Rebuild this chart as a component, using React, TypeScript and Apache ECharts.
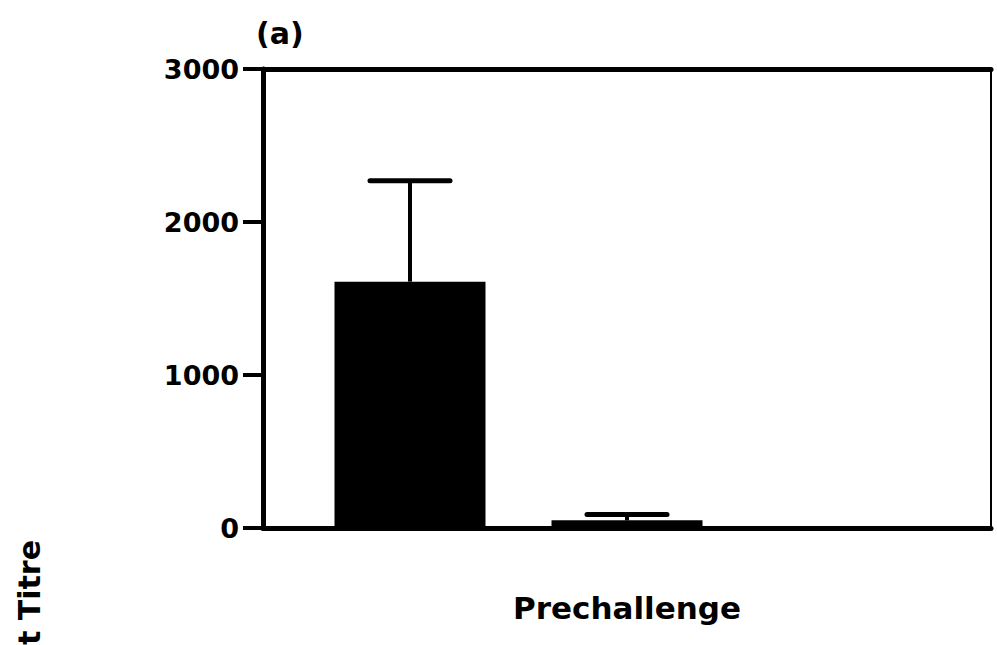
import React, { useEffect, useRef } from "react";
import * as echarts from "echarts";

const categories = ["Prechallenge"];
const groupNames = ["Group 1", "Group 2", "Group 3"];
const means = [1610, 50, 0];
const errorTops = [2270, 88, 0];
const yTicks = [0, 1000, 2000, 3000];
const panelLabel = "(a)";
const yAxisTitle = "Endpoint Titre";

const BAR_W = 151;
const GAP_PX = 66;
const FONT = "DejaVu Sans";

export default function App() {
  const ref = useRef<HTMLDivElement>(null);
  useEffect(() => {
    if (!ref.current) return;
    const chart = echarts.init(ref.current, undefined, { renderer: "svg" });
    const barSeries = groupNames.map((name, i) => ({
      type: "bar",
      name,
      data: [means[i]],
      barWidth: BAR_W,
      barGap: (GAP_PX / BAR_W) * 100 + "%",
      z: 2,
      itemStyle:
        i === 1
          ? { color: "#fff", borderColor: "#000", borderWidth: 4 }
          : { color: "#000" },
    }));
    chart.setOption({
      animation: false,
      backgroundColor: "#fff",
      grid: {
        left: 263,
        right: 6,
        top: 69,
        bottom: 117,
        outerBoundsMode: "none",
        containLabel: false,
      },
      graphic: [
        {
          type: "text",
          left: 256,
          top: 18,
          style: {
            text: panelLabel,
            font: `bold 30px "${FONT}"`,
            fill: "#000",
          },
        },
        {
          type: "text",
          x: 29,
          y: 540,
          rotation: Math.PI / 2,
          style: {
            text: yAxisTitle,
            font: `bold 30px "${FONT}"`,
            fill: "#000",
            align: "right",
            verticalAlign: "middle",
          },
        },
      ],
      xAxis: [
        {
          type: "category",
          data: categories,
          name: categories[0],
          nameLocation: "middle",
          nameGap: 64,
          nameTextStyle: {
            fontFamily: FONT,
            fontWeight: "bold",
            fontSize: 31,
            color: "#000",
          },
          axisLine: { show: true, lineStyle: { color: "#000", width: 5 } },
          axisTick: { show: false },
          axisLabel: { show: false },
          splitLine: { show: false },
        },
        {
          type: "category",
          data: categories,
          position: "top",
          axisLine: {
            show: true,
            onZero: false,
            lineStyle: { color: "#000", width: 5 },
          },
          axisTick: { show: false },
          axisLabel: { show: false },
          splitLine: { show: false },
        },
      ],
      yAxis: [
        {
          type: "value",
          min: yTicks[0],
          max: yTicks[yTicks.length - 1],
          interval: 1000,
          axisLine: { show: true, lineStyle: { color: "#000", width: 5 } },
          axisTick: {
            show: true,
            length: 20,
            lineStyle: { color: "#000", width: 4 },
          },
          axisLabel: {
            margin: 24,
            formatter: (v: number) => String(v),
            fontFamily: FONT,
            fontWeight: "bold",
            fontSize: 27,
            color: "#000",
          },
          splitLine: { show: false },
        },
        {
          type: "value",
          position: "right",
          axisLine: {
            show: true,
            onZero: false,
            lineStyle: { color: "#000", width: 2 },
          },
          axisTick: { show: false },
          axisLabel: { show: false },
          splitLine: { show: false },
        },
      ],
      series: [
        ...barSeries,
        {
          type: "custom",
          z: 3,
          data: groupNames.map((_, i) => [0, i, means[i], errorTops[i]]),
          encode: { x: 0, y: 3 },
          renderItem: (params: any, api: any) => {
            const idx = api.value(1);
            const mean = api.value(2);
            const top = api.value(3);
            if (top <= mean) return null;
            const base = api.coord([0, mean]);
            const hi = api.coord([0, top]);
            const cx = base[0] + (idx - 1) * (BAR_W + GAP_PX);
            const capHalf = 40;
            return {
              type: "group",
              children: [
                {
                  type: "line",
                  shape: { x1: cx, y1: base[1], x2: cx, y2: hi[1] },
                  style: { stroke: "#000", lineWidth: 4 },
                },
                {
                  type: "line",
                  shape: { x1: cx - capHalf, y1: hi[1], x2: cx + capHalf, y2: hi[1] },
                  style: { stroke: "#000", lineWidth: 5, lineCap: "round" },
                },
              ],
            };
          },
        },
      ],
    });
    return () => chart.dispose();
  }, []);
  return (
    <div
      ref={ref}
      style={{ position: "fixed", left: 0, top: 0, width: 997, height: 645 }}
    />
  );
}
